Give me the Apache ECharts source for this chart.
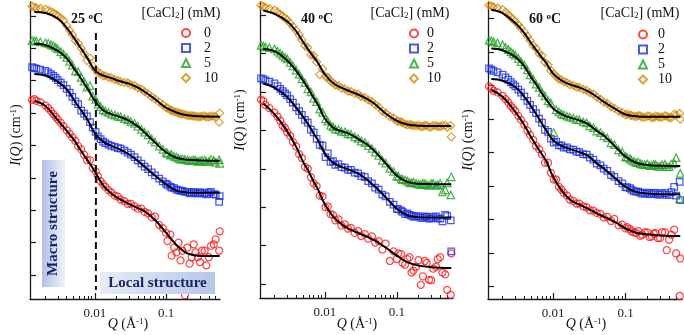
<html>
<head>
<meta charset="utf-8">
<title>I(Q) CaCl2</title>
<script src="https://cdn.jsdelivr.net/npm/echarts@6/dist/echarts.min.js"></script>
<style>body{margin:0;background:#fff;}</style>
</head>
<body>
<div id="main" style="width:684px;height:335px;"></div>
<script type="text/javascript">
// Q of the measured points (1/A)
var q = [0.0013,0.0014,0.0015,0.0017,0.002,0.0022,0.0024,0.0026,0.0028,0.003,
	0.0033,0.0036,0.004,0.0044,0.0048,0.0053,0.0058,0.0064,0.007,0.0077,
	0.0085,0.0093,0.0102,0.011,0.012,0.013,0.014,0.0155,0.017,0.019,
	0.021,0.023,0.026,0.029,0.032,0.036,0.04,0.045,0.05,0.056,
	0.063,0.07,0.08,0.09,0.1,0.115,0.13,0.15,0.17,0.2,
	0.23,0.26,0.3,0.35,0.4,0.47,0.57];
// extra points in the high-Q tail
var qTail = [0.105,0.12,0.14,0.16,0.185,0.215,0.245,0.28,0.32,0.37,0.43,0.5,0.56];
// Q of the fitted curves
var qFit = [0.0014,0.002,0.003,0.004,0.005,0.006,0.007,0.008,0.01,0.013,0.017,0.022,0.03,0.04,0.05,0.07,0.1,0.14,0.2,0.3,0.57];

// values are log10 I(Q) (curves shifted, arbitrary units)
// ---- 25 C ----
var p1Lg0 = [5.40,5.43,5.38,5.33,5.24,5.15,5.06,4.97,4.88,4.80, 4.70,4.60,4.47,4.36,4.25,4.14,3.98,3.88,3.72,3.55, 3.55,3.30,3.20,3.05,2.90,2.80,2.72,2.62,2.55,2.45, 2.42,2.33,2.28,2.20,2.20,2.12,2.05,2.05,1.95,1.90, 1.78,1.80,1.55,1.45,1.30,1.25,0.85,1.00,0.75,0.85, 0.55,0.70,0.40,0.75,0.55,0.95,1.35];
var p1Lg2 = [6.42,6.39,6.37,6.34,6.30,6.26,6.20,6.15,6.09,6.02, 5.94,5.86,5.75,5.63,5.50,5.36,5.28,5.08,4.98,4.90, 4.72,4.55,4.42,4.28,4.20,4.12,4.07,4.03,3.99,3.96, 3.92,3.90,3.84,3.78,3.72,3.64,3.54,3.44,3.35,3.27, 3.17,3.08,2.98,2.89,2.82,2.73,2.68,2.62,2.60,2.56, 2.55,2.53,2.56,2.52,2.55,2.50,2.44];
var p1Lg5 = [7.24,7.23,7.22,7.20,7.17,7.15,7.11,7.08,7.03,6.98, 6.90,6.82,6.72,6.60,6.48,6.30,6.28,6.10,5.98,5.80, 5.85,5.52,5.42,5.28,5.20,5.10,5.06,5.02,4.97,4.94, 4.90,4.88,4.83,4.79,4.74,4.68,4.60,4.50,4.41,4.33, 4.20,4.10,3.98,3.88,3.79,3.70,3.66,3.60,3.58,3.55, 3.53,3.54,3.52,3.55,3.51,3.54,3.45];
var p1Lg10 = [8.30,8.27,8.25,8.23,8.21,8.17,8.13,8.09,8.05,8.00, 7.93,7.86,7.70,7.55,7.42,7.24,7.16,7.00,6.84,6.62, 6.70,6.45,6.34,6.24,6.22,6.15,6.15,6.10,6.09,6.03, 6.01,5.97,5.95,5.93,5.88,5.85,5.78,5.74,5.66,5.60, 5.50,5.44,5.34,5.26,5.18,5.09,5.04,5.00,4.97,4.93, 4.92,4.90,4.89,4.91,4.88,4.90,5.00];
var p1Tail0 = [1.05,0.60,0.70,0.45,-0.62,0.35,0.95,0.55,0.75,0.30,0.90,1.10,0.75];
var p1Tail2 = [2.78,2.70,2.64,2.60,2.57,2.52,2.56,2.51,2.54,2.49,2.57,2.48,2.26];
var p1Tail5 = [3.76,3.72,3.64,3.58,3.57,3.53,3.56,3.51,3.55,3.50,3.57,3.48,3.56];
var p1Tail10 = [5.15,5.08,5.03,4.98,4.95,4.92,4.91,4.89,4.90,4.88,4.91,4.88,4.72];
var p1Fit0 = [5.38,5.22,4.78,4.45,4.19,3.92,3.70,3.52,3.19,2.77,2.52,2.35,2.20,2.07,1.97,1.70,1.31,0.93,0.67,0.59,0.59];
var p1Fit2 = [6.21,6.16,5.97,5.73,5.42,5.17,4.96,4.76,4.37,4.12,3.99,3.89,3.73,3.52,3.34,3.07,2.80,2.61,2.55,2.54,2.54];
var p1Fit5 = [7.14,7.10,6.92,6.69,6.39,6.15,5.92,5.73,5.37,5.09,4.97,4.89,4.77,4.59,4.40,4.09,3.79,3.62,3.56,3.54,3.53];
var p1Fit10 = [8.12,8.09,7.92,7.63,7.34,7.08,6.86,6.66,6.31,6.16,6.08,5.99,5.91,5.79,5.66,5.43,5.17,5.02,4.93,4.90,4.89];

// ---- 40 C ----
var p2Lg0 = [4.80,4.76,4.66,4.58,4.46,4.36,4.25,4.12,4.06,3.95, 3.86,3.70,3.58,3.38,3.28,3.05,3.00,2.78,2.62,2.55, 2.30,2.28,2.00,2.02,1.82,1.80,1.66,1.68,1.52,1.55, 1.44,1.46,1.33,1.38,1.25,1.30,1.18,1.24,1.08,1.12, 0.90,1.05,0.60,0.85,0.65,0.78,0.50,0.70,0.35,0.62, 0.20,0.55,0.10,0.45,0.70,0.25,0.80];
var p2Lg2 = [5.35,5.33,5.30,5.27,5.22,5.15,5.08,5.02,4.96,4.91, 4.81,4.72,4.60,4.50,4.40,4.27,4.20,4.02,3.95,3.78, 3.62,3.60,3.30,3.40,3.18,3.20,3.10,3.12,3.04,3.03, 2.97,2.97,2.90,2.88,2.81,2.78,2.68,2.62,2.51,2.46, 2.33,2.28,2.14,2.07,1.95,1.91,1.82,1.80,1.75,1.76, 1.72,1.75,1.71,1.76,1.70,1.80,0.85];
var p2Lg5 = [6.21,6.19,6.17,6.15,6.12,6.06,6.00,5.95,5.90,5.86, 5.77,5.68,5.57,5.46,5.34,5.24,5.08,5.00,4.84,4.75, 4.55,4.47,4.30,4.24,4.13,4.09,4.03,4.02,3.97,3.96, 3.91,3.90,3.83,3.79,3.72,3.68,3.60,3.53,3.43,3.35, 3.22,3.15,3.01,2.93,2.81,2.74,2.71,2.64,2.65,2.60, 2.62,2.58,2.61,2.57,2.62,2.45,2.79];
var p2Lg10 = [7.25,7.22,7.20,7.17,7.13,7.08,7.02,6.97,6.92,6.88, 6.79,6.70,6.60,6.48,6.36,6.20,6.15,5.96,5.95,5.78, 5.45,5.60,5.40,5.38,5.28,5.24,5.18,5.16,5.10,5.08, 5.02,5.01,4.96,4.94,4.88,4.85,4.79,4.75,4.67,4.61, 4.50,4.45,4.36,4.32,4.24,4.22,4.16,4.15,4.12,4.13, 4.10,4.12,4.09,4.12,4.10,4.13,3.83];
var p2Tail0 = [0.80,0.55,0.65,0.30,0.45,-0.02,0.60,0.11,0.40,0.65,0.30,-0.15,-0.28];
var p2Tail2 = [1.95,1.88,1.84,1.78,1.77,1.72,1.76,1.70,1.75,1.71,1.63,1.77,1.66];
var p2Tail5 = [2.80,2.72,2.68,2.63,2.62,2.59,2.61,2.57,2.62,2.58,2.40,2.63,2.32];
var p2Tail10 = [4.24,4.20,4.15,4.14,4.12,4.10,4.13,4.09,4.12,4.10,4.13,4.08,4.12];
var p2Fit0 = [4.70,4.42,3.98,3.57,3.18,2.92,2.66,2.47,2.08,1.76,1.56,1.43,1.32,1.22,1.13,0.95,0.74,0.57,0.48,0.44,0.42];
var p2Fit2 = [5.22,5.11,4.87,4.59,4.35,4.13,3.92,3.75,3.40,3.16,3.05,2.97,2.86,2.69,2.53,2.26,1.96,1.79,1.74,1.73,1.73];
var p2Fit5 = [6.12,6.06,5.82,5.55,5.29,5.06,4.84,4.67,4.31,4.07,3.98,3.91,3.76,3.61,3.44,3.14,2.82,2.66,2.61,2.60,2.60];
var p2Fit10 = [7.12,7.03,6.84,6.58,6.30,6.08,5.91,5.76,5.46,5.23,5.11,5.02,4.92,4.80,4.68,4.44,4.25,4.15,4.12,4.11,4.11];

// ---- 60 C ----
var p3Lg0 = [5.98,5.92,5.85,5.80,5.70,5.60,5.50,5.40,5.32,5.24, 5.10,4.98,4.84,4.66,4.53,4.38,4.20,4.10,3.95,3.70, 3.70,3.40,3.20,3.20,2.98,2.90,2.80,2.72,2.60,2.56, 2.48,2.48,2.40,2.37,2.28,2.27,2.20,2.17,2.06,2.08, 1.96,2.02,1.83,1.85,1.74,1.72,1.62,1.66,1.55,1.62, 1.50,1.60,1.45,1.62,1.40,1.70,0.84];
var p3Lg2 = [6.52,6.48,6.44,6.40,6.33,6.25,6.18,6.11,6.04,5.98, 5.88,5.79,5.68,5.55,5.43,5.30,5.18,5.02,4.90,4.68, 4.62,4.42,4.30,4.33,4.22,4.22,4.15,4.16,4.10,4.09, 4.03,4.02,3.96,3.94,3.85,3.79,3.67,3.62,3.52,3.46, 3.33,3.28,3.15,3.08,2.97,2.94,2.85,2.84,2.78,2.81, 2.76,2.80,2.75,2.79,2.74,2.98,2.58];
var p3Lg5 = [7.36,7.34,7.31,7.28,7.22,7.15,7.08,7.02,6.96,6.91, 6.82,6.72,6.62,6.47,6.32,6.20,6.05,5.95,5.80,5.70, 5.55,5.48,4.60,5.28,5.22,5.16,5.13,5.09,5.06,5.03, 4.99,4.98,4.92,4.89,4.80,4.75,4.64,4.60,4.50,4.44, 4.29,4.24,4.08,4.02,3.88,3.82,3.74,3.72,3.65,3.66, 3.61,3.64,3.59,3.65,3.58,3.68,3.38];
var p3Lg10 = [8.40,8.38,8.35,8.32,8.28,8.20,8.12,8.05,7.98,7.92, 7.82,7.72,7.60,7.48,7.35,7.20,7.12,6.96,6.90,6.70, 6.62,6.45,6.36,6.28,6.20,6.18,6.12,6.09,6.03,6.01, 5.96,5.95,5.89,5.86,5.79,5.75,5.66,5.60,5.51,5.47, 5.37,5.33,5.24,5.20,5.13,5.13,5.09,5.11,5.06,5.09, 5.05,5.09,5.06,5.10,5.05,5.15,5.00];
var p3Tail0 = [1.78,1.65,1.60,1.52,1.62,1.48,1.58,1.45,1.63,1.09,1.55,0.99,-0.28];
var p3Tail2 = [2.96,2.90,2.84,2.81,2.78,2.76,2.80,2.75,2.79,2.74,2.82,2.72,3.13];
var p3Tail5 = [3.86,3.78,3.70,3.67,3.64,3.61,3.65,3.59,3.64,3.58,3.66,3.85,2.63];
var p3Tail10 = [5.15,5.11,5.08,5.10,5.06,5.09,5.05,5.08,5.06,5.09,5.05,5.12,5.17];
var p3Fit0 = [5.88,5.67,5.22,4.82,4.45,4.17,3.95,3.75,3.28,2.88,2.60,2.47,2.33,2.19,2.09,1.94,1.74,1.61,1.56,1.53,1.51];
var p3Fit2 = [6.20,6.15,5.96,5.67,5.37,5.11,4.87,4.67,4.37,4.20,4.11,4.03,3.91,3.68,3.53,3.26,2.98,2.83,2.78,2.76,2.76];
var p3Fit5 = [7.11,7.06,6.86,6.58,6.24,6.00,5.77,5.59,5.32,5.15,5.05,4.98,4.86,4.65,4.51,4.21,3.88,3.70,3.63,3.61,3.60];
var p3Fit10 = [8.27,8.17,7.87,7.57,7.26,7.03,6.84,6.68,6.36,6.16,6.04,5.96,5.84,5.67,5.52,5.32,5.14,5.09,5.07,5.07,5.07];

var names = ['0', '2', '5', '10'];
var temps = ['25', '40', '60'];
// tick positions
var xMinorTicks = [0.002,0.003,0.004,0.005,0.006,0.007,0.008,0.009,0.02,0.03,0.04,0.05,0.06,0.07,0.08,0.09,0.2,0.3,0.4,0.5];
var xMajorTicks = [0.01, 0.1];
var yTicks = [1,10,100,1e3,1e4,1e5,1e6,1e7,1e8];
// vertical guide at the macro / local boundary (panel 25 C)
var guideQ = 0.0103;
var guideLg = [7.47, -0.46];

var colors = ['#ff1a1a', '#1a30e8', '#23a025', '#d38a0c'];
var symbols = ['circle', 'rect', 'triangle', 'diamond'];
var symSizes = [7, 6.5, 7.5, 8];
var serif = 'Liberation Serif';

var panels = [
	{lg: [p1Lg0, p1Lg2, p1Lg5, p1Lg10], tail: [p1Tail0, p1Tail2, p1Tail5, p1Tail10], fit: [p1Fit0, p1Fit2, p1Fit5, p1Fit10],
	 grid: {left: 30, top: 2, width: 190, height: 297}, x: [-2.915, -0.24], y: [-0.74, 8.43]},
	{lg: [p2Lg0, p2Lg2, p2Lg5, p2Lg10], tail: [p2Tail0, p2Tail2, p2Tail5, p2Tail10], fit: [p2Fit0, p2Fit2, p2Fit5, p2Fit10],
	 grid: {left: 260, top: 2, width: 193, height: 296}, x: [-2.90, -0.22], y: [-0.363, 7.34]},
	{lg: [p3Lg0, p3Lg2, p3Lg5, p3Lg10], tail: [p3Tail0, p3Tail2, p3Tail5, p3Tail10], fit: [p3Fit0, p3Fit2, p3Fit5, p3Fit10],
	 grid: {left: 488, top: 2, width: 194, height: 297}, x: [-2.90, -0.22], y: [-0.37, 8.50]}
];
// text / legend placement per panel
var layout = [
	{legend: {left: 176, top: 21, gap: 9}, temp: [87, 19], salt: [181, 13], yName: [16, 135], xName: [128, 324]},
	{legend: {left: 404, top: 21.5, gap: 4}, temp: [317, 19], salt: [410, 13], yName: [240, 120], xName: [357, 324]},
	{legend: {left: 633, top: 22.5, gap: 6}, temp: [545, 19], salt: [640, 13], yName: [468, 140], xName: [586, 324]}
];

function toPts(xs, lg) {
	var out = [];
	for (var i = 0; i < xs.length; i++) {
		out.push([xs[i], Math.pow(10, lg[i])]);
	}
	return out;
}

var grids = [], xAxes = [], yAxes = [], series = [], legends = [], graphics = [];
var axisColor = '#1a1a1a';

panels.forEach(function (p, i) {
	grids.push(p.grid);
	var xmin = Math.pow(10, p.x[0]), xmax = Math.pow(10, p.x[1]);
	// line + minor ticks
	xAxes.push({
		type: 'log', gridIndex: i, min: xmin, max: xmax, position: 'bottom',
		axisLine: {onZero: false, lineStyle: {color: axisColor, width: 1.3}},
		axisTick: {inside: true, length: 3, customValues: xMinorTicks, lineStyle: {color: axisColor, width: 1}},
		axisLabel: {show: false},
		splitLine: {show: false}
	});
	// major ticks + labels
	xAxes.push({
		type: 'log', gridIndex: i, min: xmin, max: xmax, position: 'bottom', offset: 0,
		axisLine: {show: false, onZero: false},
		axisTick: {inside: true, length: 6, customValues: xMajorTicks, lineStyle: {color: axisColor, width: 1.2}},
		axisLabel: {
			customValues: xMajorTicks, margin: 8, color: '#222', fontFamily: serif, fontSize: 13,
			formatter: function (v) { return String(+(+v).toPrecision(3)); }
		},
		splitLine: {show: false}
	});
	yAxes.push({
		type: 'log', gridIndex: i, min: Math.pow(10, p.y[0]), max: Math.pow(10, p.y[1]),
		axisLine: {show: true, onZero: false, lineStyle: {color: axisColor, width: 1.3}},
		axisTick: {show: true, inside: true, length: 6, customValues: yTicks, lineStyle: {color: axisColor, width: 1.2}},
		axisLabel: {show: false},
		splitLine: {show: false}
	});

	for (var k = 0; k < 4; k++) {
		series.push({
			name: names[k], type: 'scatter', xAxisIndex: 2 * i, yAxisIndex: i,
			symbol: symbols[k], symbolSize: symSizes[k], symbolKeepAspect: true,
			itemStyle: {color: 'transparent', borderColor: colors[k], borderWidth: 1.25},
			data: toPts(q, p.lg[k]).concat(toPts(qTail, p.tail[k])),
			z: 2
		});
	}
	for (var k = 0; k < 4; k++) {
		series.push({
			name: 'fit', type: 'line', xAxisIndex: 2 * i, yAxisIndex: i,
			smooth: 0.4, showSymbol: false, symbol: 'none',
			lineStyle: {color: '#000', width: 2},
			data: toPts(qFit, p.fit[k]),
			z: 4, silent: true
		});
	}

	var lo = layout[i];
	legends.push({
		data: names, orient: 'vertical', left: lo.legend.left, top: lo.legend.top,
		itemWidth: 8, itemHeight: 8, itemGap: 1,
		selectedMode: false,
		textStyle: {fontFamily: serif, fontSize: 14, color: '#111', padding: [0, 0, 0, lo.legend.gap]}
	});

	graphics.push({
		type: 'text', x: lo.temp[0], y: lo.temp[1], z: 10,
		style: {
			text: temps[i] + ' {o|o}C', fill: '#111', font: 'bold 14px ' + serif,
			textAlign: 'center', textVerticalAlign: 'middle',
			rich: {o: {fontSize: 9, fontWeight: 'bold', fontFamily: serif, verticalAlign: 'top', fill: '#111'}}
		}
	});
	graphics.push({
		type: 'text', x: lo.salt[0], y: lo.salt[1], z: 10,
		style: {
			text: '[CaCl{s|2}] (mM)', fill: '#111', font: '14px ' + serif,
			textAlign: 'center', textVerticalAlign: 'middle',
			rich: {s: {fontSize: 9, fontFamily: serif, verticalAlign: 'bottom', fill: '#111'}}
		}
	});
	graphics.push({
		type: 'text', x: lo.yName[0], y: lo.yName[1], rotation: Math.PI / 2, z: 10,
		style: {
			text: '{i|I}({i|Q}) (cm{s|-1})', fill: '#111', font: '14px ' + serif,
			textAlign: 'center', textVerticalAlign: 'middle',
			rich: {
				i: {fontSize: 14, fontFamily: serif, fontStyle: 'italic', fill: '#111'},
				s: {fontSize: 9, fontFamily: serif, verticalAlign: 'top', fill: '#111'}
			}
		}
	});
	graphics.push({
		type: 'text', x: lo.xName[0], y: lo.xName[1], z: 10,
		style: {
			text: '{i|Q} (Å{s|-1})', fill: '#111', font: '14px ' + serif,
			textAlign: 'center', textVerticalAlign: 'middle',
			rich: {
				i: {fontSize: 14, fontFamily: serif, fontStyle: 'italic', fill: '#111'},
				s: {fontSize: 9, fontFamily: serif, verticalAlign: 'top', fill: '#111'}
			}
		}
	});
});

// dashed boundary line on the 25 C panel
series.push({
	name: 'guide', type: 'line', xAxisIndex: 0, yAxisIndex: 0, symbol: 'none', silent: true,
	lineStyle: {color: '#111', width: 2, type: [7, 4]},
	data: [[guideQ, Math.pow(10, guideLg[0])], [guideQ, Math.pow(10, guideLg[1])]],
	z: 5
});

// annotation boxes
graphics.push({
	type: 'rect', z: 20, shape: {x: 42, y: 160, width: 23, height: 127},
	style: {fill: new echarts.graphic.LinearGradient(0, 0, 1, 0, [
		{offset: 0, color: '#b2c2e6'}, {offset: 1, color: '#eef2fa'}])}
});
graphics.push({
	type: 'text', x: 53.5, y: 223.5, rotation: Math.PI / 2, z: 21,
	style: {text: 'Macro structure', fill: '#17256b', font: 'bold 15px ' + serif,
		textAlign: 'center', textVerticalAlign: 'middle'}
});
graphics.push({
	type: 'rect', z: 20, shape: {x: 100, y: 272, width: 115, height: 22},
	style: {fill: new echarts.graphic.LinearGradient(0, 0, 1, 1, [
		{offset: 0, color: '#e8edf8'}, {offset: 1, color: '#b6c5e7'}])}
});
graphics.push({
	type: 'text', x: 157.5, y: 283.5, z: 21,
	style: {text: 'Local structure', fill: '#17256b', font: 'bold 15px ' + serif,
		textAlign: 'center', textVerticalAlign: 'middle'}
});

var myChart = echarts.init(document.getElementById('main'));
myChart.setOption({
	animation: false,
	grid: grids,
	xAxis: xAxes,
	yAxis: yAxes,
	legend: legends,
	series: series,
	graphic: {elements: graphics}
});
</script>
</body>
</html>
